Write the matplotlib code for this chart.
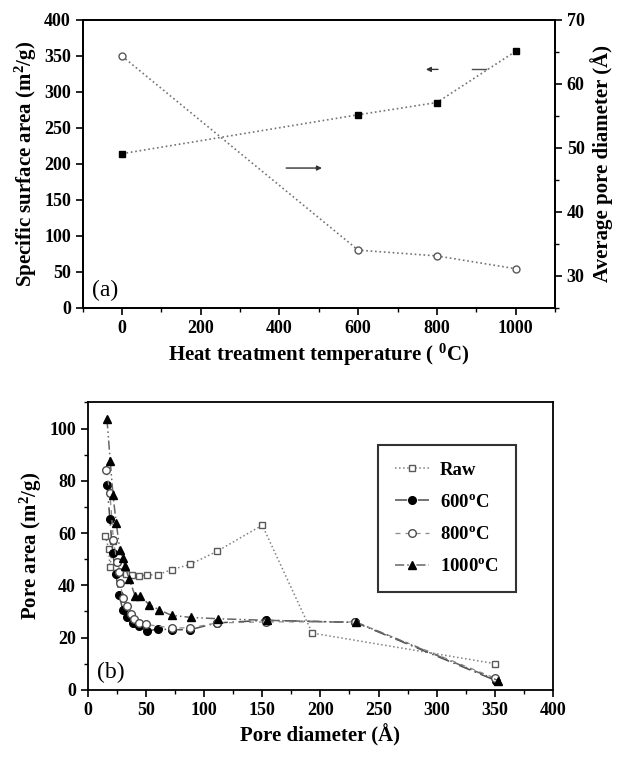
import numpy as np
import matplotlib.pyplot as plt
from matplotlib.ticker import MultipleLocator

plt.rcParams['font.family'] = ['Liberation Serif', 'DejaVu Serif']
plt.rcParams['font.weight'] = 'bold'
plt.rcParams['mathtext.fontset'] = 'custom'
plt.rcParams['mathtext.rm'] = 'Liberation Serif:bold'
plt.rcParams['mathtext.it'] = 'Liberation Serif:bold'
plt.rcParams['mathtext.bf'] = 'Liberation Serif:bold'
plt.rcParams['axes.linewidth'] = 1.3

# panel (a): heat treatment data
temps = [0, 600, 800, 1000]
surface_area = [214, 268, 285, 356]
pore_diam_avg = [64.3, 34.0, 33.1, 31.1]

# panel (b): pore area distribution
raw_d = [15, 18, 19, 22, 25, 28, 33, 38, 44, 51, 60, 72, 88, 111, 150, 193, 350]
raw_a = [59, 54, 47, 57, 49, 45, 44.5, 44, 43.5, 44, 44, 46, 48, 53, 63, 21.7, 10]

c600_d = [16.5, 19, 21.4, 24, 27, 30, 34, 39, 44, 51, 60, 72, 88, 111, 153, 230, 351]
c600_a = [78.6, 65.5, 52.4, 44.5, 36.4, 30.7, 28, 25.6, 24.3, 22.4, 23.3, 23, 23, 25.6, 26.6, 25.8, 3.5]

c800_d = [16, 19, 22, 25, 27, 28, 30, 34, 37, 40, 44, 50, 72, 88, 111, 153, 230, 350]
c800_a = [84, 75.5, 57.5, 49, 45, 41, 35, 32, 29, 27, 25.5, 25, 23.7, 23.7, 25.6, 26, 26, 4.5]

c1000_d = [16.5, 19.3, 21.7, 24.5, 27.6, 30, 32, 35.5, 40.7, 45, 53, 61, 72, 89, 112, 154, 231, 353]
c1000_a = [103.6, 87.6, 74.4, 63.7, 53.5, 50.5, 47.3, 42.5, 36, 36, 32.5, 30.7, 28.5, 27.7, 27.2, 26.6, 25.8, 3.5]

fig = plt.figure(figsize=(6.27, 7.58), dpi=100)

# ---------- panel (a) ----------
ax1 = fig.add_axes([0.132, 0.594, 0.753, 0.38])
ax1.plot(temps, surface_area, ls=':', color='0.45', lw=1.2,
         marker='s', ms=5, mfc='black', mec='black')
ax1.set_xlim(-100, 1100)
ax1.set_ylim(0, 400)
ax1.xaxis.set_major_locator(MultipleLocator(200))
ax1.xaxis.set_minor_locator(MultipleLocator(100))
ax1.yaxis.set_major_locator(MultipleLocator(50))
ax1.set_xlabel('Heat treatment temperature ( $^{0}$C)', fontsize=15, fontweight='bold')
ax1.set_ylabel('Specific surface area (m$^{2}$/g)', fontsize=15, fontweight='bold')
ax1.text(0.02, 0.04, '(a)', transform=ax1.transAxes, fontsize=17, fontweight='normal')

ax2 = ax1.twinx()
ax2.plot(temps, pore_diam_avg, ls=':', color='0.45', lw=1.2,
         marker='o', ms=5, mfc='white', mec='0.35')
ax2.set_ylim(25, 70)
ax2.yaxis.set_major_locator(MultipleLocator(10))
ax2.yaxis.set_minor_locator(MultipleLocator(5))
ax2.set_ylabel('Average pore diameter (Å)', fontsize=15, fontweight='bold')

# arrows pointing to the axis of each series
ax1.annotate('', xy=(765, 331), xytext=(810, 331),
             arrowprops=dict(arrowstyle='-|>', color='0.2', lw=1, mutation_scale=7))
ax1.plot([890, 925], [331, 331], color='0.3', lw=1)
ax1.annotate('', xy=(515, 194), xytext=(410, 194),
             arrowprops=dict(arrowstyle='-|>', color='0.2', lw=1, mutation_scale=7))

for ax in (ax1, ax2):
    ax.tick_params(direction='out', which='major', length=5, width=1.2, labelsize=13)
    ax.tick_params(direction='out', which='minor', length=3, width=1)

# ---------- panel (b) ----------
ax3 = fig.add_axes([0.14, 0.09, 0.742, 0.379])
ax3.plot(raw_d, raw_a, ls=':', color='0.5', lw=1.1, marker='s', ms=5,
         mfc='white', mec='0.35', label='Raw')
ax3.plot(c600_d, c600_a, ls=(0, (8, 3, 1, 3)), color='0.3', lw=1.1, marker='o', ms=5.5,
         mfc='black', mec='black', label='600$^{o}$C')
ax3.plot(c800_d, c800_a, ls=(0, (4, 4)), color='0.55', lw=0.9, marker='o', ms=5.5,
         mfc='white', mec='0.3', label='800$^{o}$C')
ax3.plot(c1000_d, c1000_a, ls=(0, (6, 2, 1, 2, 1, 2)), color='0.4', lw=1.1, marker='^', ms=6,
         mfc='black', mec='black', label='1000$^{o}$C')
ax3.set_xlim(0, 400)
ax3.set_ylim(0, 110)
ax3.xaxis.set_major_locator(MultipleLocator(50))
ax3.xaxis.set_minor_locator(MultipleLocator(25))
ax3.yaxis.set_major_locator(MultipleLocator(20))
ax3.yaxis.set_minor_locator(MultipleLocator(10))
ax3.set_xlabel('Pore diameter (Å)', fontsize=15, fontweight='bold')
ax3.set_ylabel('Pore area (m$^{2}$/g)', fontsize=15, fontweight='bold')
ax3.text(0.02, 0.04, '(b)', transform=ax3.transAxes, fontsize=17, fontweight='normal')
ax3.tick_params(direction='out', which='major', length=5, width=1.2, labelsize=13)
ax3.tick_params(direction='out', which='minor', length=3, width=1)

leg = ax3.legend(loc='upper right', bbox_to_anchor=(0.94, 0.885), fontsize=13.5,
                 frameon=True, fancybox=False, edgecolor='black', handlelength=1.8,
                 handletextpad=0.6, borderpad=0.9, labelspacing=0.8)
leg.get_frame().set_linewidth(1.5)

fig.savefig('out.png', dpi=100)
